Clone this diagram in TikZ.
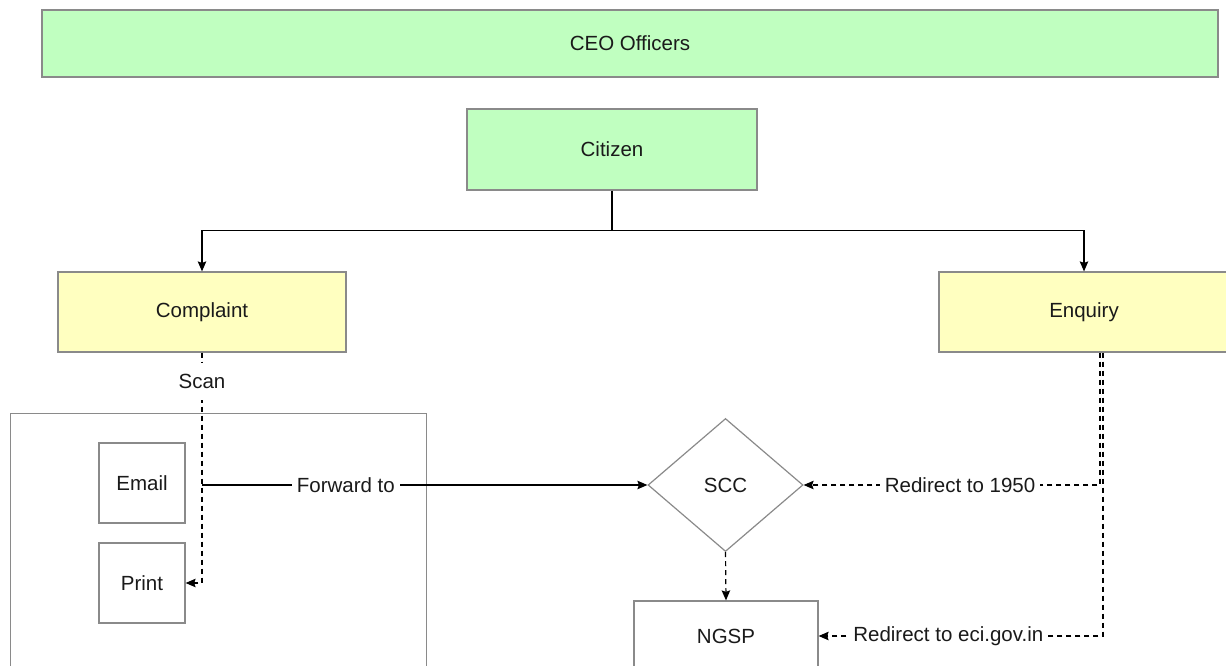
\documentclass[tikz,border=0pt]{standalone}
\usepackage{fontspec}
\setmainfont{Liberation Sans}
\usetikzlibrary{shapes.geometric,arrows.meta}
\definecolor{boxgreen}{HTML}{C0FFC0}
\definecolor{boxyellow}{HTML}{FFFFC0}
\definecolor{edgegray}{HTML}{8A8A8A}
\definecolor{txt}{HTML}{1A1A1A}
\tikzset{
  base/.style={draw=edgegray, line width=1.2pt, inner sep=0pt, text=txt,
    font=\fontsize{20.5}{24}\selectfont},
  greenbox/.style={base, fill=boxgreen},
  yellowbox/.style={base, fill=boxyellow},
  whitebox/.style={base, fill=white},
  decision/.style={base, fill=white, shape=diamond, minimum width=155pt, minimum height=133pt},
  conn/.style={line width=1.2pt, draw=black, -{Stealth[length=10pt,width=8.5pt,inset=1.5pt]}},
  plainconn/.style={line width=1.2pt, draw=black},
  dconn/.style={conn, dash pattern=on 5pt off 4pt},
  lbl/.style={fill=white, text=txt, inner xsep=5pt, inner ysep=3pt,
    font=\fontsize{20.5}{24}\selectfont}
}
\begin{document}
\begin{tikzpicture}[x=1pt,y=-1pt]
\useasboundingbox[fill=white] (0,0) rectangle (1226,666);
% outer group box
\node[base, fill=none, minimum width=416pt, minimum height=290pt, anchor=north west] (group) at (10,413) {};
% nodes
\node[greenbox, minimum width=1176pt, minimum height=67pt] (ceo) at (630,43.5) {CEO Officers};
\node[greenbox, minimum width=290pt, minimum height=81pt] (citizen) at (612,149.5) {Citizen};
\node[yellowbox, minimum width=288pt, minimum height=80pt] (complaint) at (202,312) {Complaint};
\node[yellowbox, minimum width=290pt, minimum height=80pt] (enquiry) at (1084,312) {Enquiry};
\node[whitebox, minimum width=86pt, minimum height=80pt] (email) at (142,483) {Email};
\node[whitebox, minimum width=86pt, minimum height=80pt] (print) at (142,583) {Print};
\node[decision] (scc) at (725.5,485) {SCC};
\node[whitebox, minimum width=184pt, minimum height=70pt] (ngsp) at (726,636) {NGSP};
% connectors
\draw[plainconn] (citizen.south) -- ++(0,40) coordinate (split);
\draw[conn] (split) -| (complaint.north);
\draw[conn] (split) -| (enquiry.north);
\draw[dconn] (complaint.south) -- node[pos=0.126, lbl, inner ysep=11pt]{Scan} (complaint.south |- print.east) -- (print.east);
\draw[conn] (complaint.south |- scc.west) -- node[pos=0.323, lbl]{Forward to} (scc.west);
\draw[dconn] ([xshift=16pt]enquiry.south) |- node[pos=0.736, lbl]{Redirect to 1950} (scc.east);
\draw[dconn] ([xshift=19pt]enquiry.south) |- node[pos=0.772, lbl]{Redirect to eci.gov.in} (ngsp.east);
\draw[dconn] (scc.south) -- (ngsp.north);
\end{tikzpicture}
\end{document}
